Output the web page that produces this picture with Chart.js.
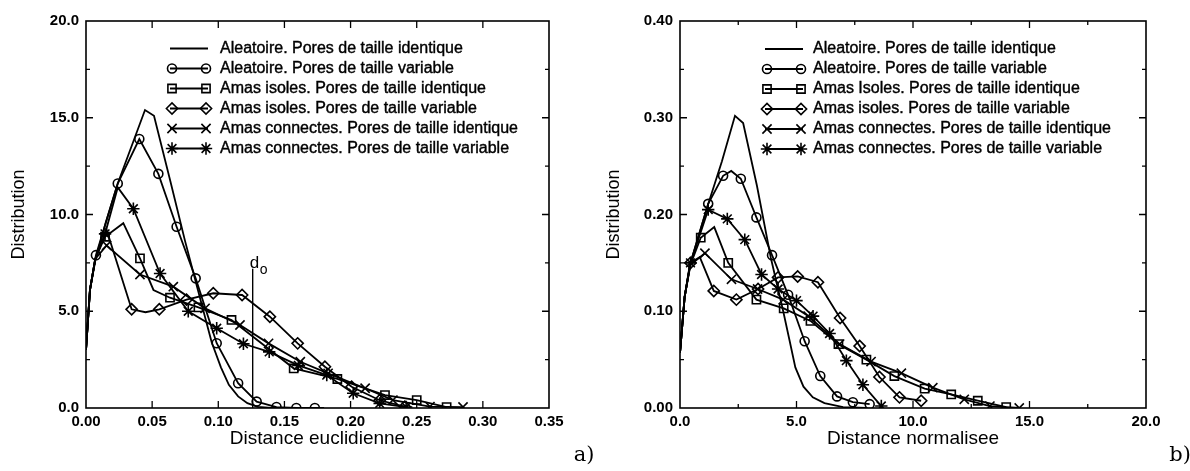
<!DOCTYPE html>
<html>
<head>
<meta charset="utf-8">
<script src="https://cdn.jsdelivr.net/npm/chart.js@4/dist/chart.umd.min.js"></script>
<style>
  body { margin: 0; background: #fff; }
  canvas { position: absolute; top: 0; }
  #chartA { left: 0; }
  #chartB { left: 600px; }
</style>
</head>
<body>
<canvas id="chartA" width="600" height="471"></canvas>
<canvas id="chartB" width="590" height="471"></canvas>
<script>
// series names
const labelsA = ['Aleatoire. Pores de taille identique', 'Aleatoire. Pores de taille variable',
  'Amas isoles. Pores de taille identique', 'Amas isoles. Pores de taille variable',
  'Amas connectes. Pores de taille identique', 'Amas connectes. Pores de taille variable'];
const labelsB = ['Aleatoire. Pores de taille identique', 'Aleatoire. Pores de taille variable',
  'Amas Isoles. Pores de taille identique', 'Amas isoles. Pores de taille variable',
  'Amas connectes. Pores de taille identique', 'Amas connectes. Pores de taille variable'];
const markers = [false, 'circle', 'rect', 'rectRot', 'crossRot', 'star'];

// a) distance euclidienne
const xA1 = [0, 0.003, 0.007, 0.015, 0.024, 0.0446, 0.0514, 0.0635, 0.075, 0.085, 0.095, 0.102, 0.108, 0.115, 0.122, 0.13, 0.14, 0.18];
const yA1 = [3.0, 6.1, 7.6, 9.6, 11.6, 15.4, 15.1, 11.8, 8.6, 6.0, 3.4, 2.1, 1.2, 0.6, 0.25, 0.06, 0, 0];
const xA2 = [0, 0.003, 0.0075, 0.024, 0.0403, 0.0547, 0.0685, 0.0829, 0.0988, 0.115, 0.129, 0.144, 0.159, 0.173];
const yA2 = [3.0, 6.1, 7.9, 11.6, 13.9, 12.1, 9.37, 6.7, 3.35, 1.28, 0.33, 0.05, 0, 0];
const xA3 = [0, 0.003, 0.007, 0.0144, 0.0282, 0.0408, 0.051, 0.0635, 0.085, 0.110, 0.157, 0.19, 0.226, 0.25, 0.2726];
const yA3 = [3.0, 6.1, 7.7, 8.85, 9.55, 7.73, 6.1, 5.7, 5.2, 4.55, 2.05, 1.5, 0.67, 0.41, 0.05];
const xA4 = [0, 0.003, 0.007, 0.0156, 0.0345, 0.045, 0.0554, 0.076, 0.0962, 0.118, 0.139, 0.160, 0.1806, 0.2008, 0.222, 0.241];
const yA4 = [3.0, 6.1, 7.7, 9.2, 5.1, 4.95, 5.1, 5.6, 5.93, 5.84, 4.72, 3.34, 2.13, 1.1, 0.4, 0.07];
const xA5 = [0, 0.003, 0.007, 0.0156, 0.0408, 0.066, 0.09, 0.1164, 0.138, 0.162, 0.183, 0.211, 0.232, 0.26, 0.285];
const yA5 = [3.0, 6.1, 7.7, 8.4, 6.9, 6.27, 5.15, 4.29, 3.34, 2.39, 1.79, 1.02, 0.41, 0.07, 0.05];
const xA6 = [0, 0.003, 0.007, 0.0144, 0.024, 0.0358, 0.056, 0.0773, 0.0988, 0.119, 0.1385, 0.1605, 0.182, 0.202, 0.222, 0.242];
const yA6 = [3.0, 6.1, 7.7, 9.0, 11.4, 10.3, 6.95, 5.0, 4.12, 3.32, 2.9, 2.2, 1.7, 0.76, 0.24, 0.05];
// points without a marker symbol
const bareA = [[], [0, 1], [0, 1, 2, 4, 6], [0, 1, 2, 3, 5], [0, 1, 2], [0, 1, 2, 4]];
const xTicksA = [0, 0.35, 0.05];
const yTicksA = [0, 20, 5];
const d0 = [0.126, 7.2];

// b) distance normalisee
const xB1 = [0, 0.2, 0.45, 1.2, 1.8, 2.36, 2.71, 3.3, 3.9, 4.43, 4.7, 4.95, 5.3, 5.7, 6.2, 7.0, 8.0];
const yB1 = [0.057, 0.115, 0.15, 0.21, 0.255, 0.302, 0.2945, 0.23, 0.155, 0.10, 0.07, 0.042, 0.022, 0.011, 0.005, 0.001, 0];
const xB2 = [0, 0.2, 0.45, 1.21, 1.85, 2.2, 2.61, 3.28, 3.95, 4.64, 5.35, 6.02, 6.74, 7.42, 8.14];
const yB2 = [0.057, 0.115, 0.15, 0.211, 0.240, 0.245, 0.237, 0.197, 0.158, 0.117, 0.069, 0.033, 0.012, 0.006, 0.004];
const xB3 = [0, 0.2, 0.4, 0.89, 1.47, 2.07, 3.28, 4.45, 5.6, 6.8, 8.0, 9.2, 10.5, 11.64, 12.78, 14.0];
const yB3 = [0.057, 0.115, 0.145, 0.176, 0.187, 0.150, 0.112, 0.103, 0.09, 0.066, 0.05, 0.033, 0.02, 0.014, 0.0075, 0.001];
const xB4 = [0, 0.2, 0.45, 0.85, 1.45, 2.42, 3.35, 4.21, 5.05, 5.92, 6.87, 7.71, 8.56, 9.42, 10.35];
const yB4 = [0.057, 0.115, 0.15, 0.156, 0.121, 0.112, 0.123, 0.135, 0.136, 0.13, 0.093, 0.064, 0.032, 0.011, 0.0075];
const xB5 = [0, 0.2, 0.45, 1.07, 2.21, 3.33, 4.43, 5.5, 6.85, 8.2, 9.5, 10.85, 12.2, 13.3, 14.56];
const yB5 = [0.057, 0.115, 0.148, 0.16, 0.133, 0.123, 0.112, 0.095, 0.066, 0.048, 0.036, 0.021, 0.009, 0.002, 0.0];
const xB6 = [0, 0.2, 0.45, 1.21, 2.03, 2.78, 3.5, 4.21, 5.0, 5.71, 6.42, 7.14, 7.85, 8.64];
const yB6 = [0.057, 0.115, 0.15, 0.205, 0.1955, 0.174, 0.138, 0.123, 0.111, 0.095, 0.077, 0.049, 0.024, 0.002];
const bareB = [[], [0, 1, 2, 5], [0, 1, 2, 4], [0, 1, 3], [0, 1, 2], [0, 1]];
const xTicksB = [0, 20, 5];
const yTicksB = [0, 0.4, 0.1];

const FONT = 'Liberation Sans, Arial, sans-serif';
const markSize = { circle: 4.5, rect: 5.8, rectRot: 5.6, crossRot: 6.5, star: 6.2 };

function makeSet(label, xs, ys, style, bare) {
  const r = style ? markSize[style] : 0;
  return {
    label: label,
    data: xs.map((x, i) => ({ x: x, y: ys[i] })),
    borderColor: '#000',
    borderWidth: 1.8,
    pointStyle: style || 'circle',
    markStyle: style,
    markRadius: r,
    pointRadius: ctx => bare.includes(ctx.dataIndex) ? 0 : r,
    pointBorderColor: '#000',
    pointBackgroundColor: 'rgba(0,0,0,0)',
    pointBorderWidth: 1.6,
    tension: 0,
    fill: false
  };
}

function drawMark(ctx, style, x, y, r) {
  const s = r * Math.SQRT1_2;
  ctx.beginPath();
  if (style === 'circle') {
    ctx.arc(x, y, r, 0, Math.PI * 2);
  } else if (style === 'rect') {
    ctx.rect(x - s, y - s, 2 * s, 2 * s);
  } else if (style === 'rectRot') {
    ctx.moveTo(x - r, y); ctx.lineTo(x, y - r); ctx.lineTo(x + r, y); ctx.lineTo(x, y + r); ctx.closePath();
  } else {
    ctx.moveTo(x - s, y - s); ctx.lineTo(x + s, y + s);
    ctx.moveTo(x - s, y + s); ctx.lineTo(x + s, y - s);
    if (style === 'star') {
      ctx.moveTo(x, y - r); ctx.lineTo(x, y + r);
      ctx.moveTo(x - r, y); ctx.lineTo(x + r, y);
    }
  }
  ctx.stroke();
}

// frame, inward ticks, legend and labels, drawn the old-plotter way
const paper = {
  id: 'paper',
  afterDatasetsDraw(chart, args, o) {
    const ctx = chart.ctx, a = chart.chartArea;
    const xs = chart.scales.x, ys = chart.scales.y;
    ctx.save();
    ctx.strokeStyle = '#000';
    ctx.fillStyle = '#000';
    ctx.lineWidth = 1.6;
    ctx.strokeRect(a.left, a.top, a.right - a.left, a.bottom - a.top);

    ctx.lineWidth = 1.3;
    ctx.beginPath();
    const nx = Math.round((xs.max - xs.min) / o.xMinor);
    for (let i = 1; i < nx; i++) {
      const v = xs.min + i * o.xMinor;
      const len = (i % Math.round(o.xMajor / o.xMinor) === 0) ? 7 : 4;
      const p = xs.getPixelForValue(v);
      ctx.moveTo(p, a.bottom); ctx.lineTo(p, a.bottom - len);
      ctx.moveTo(p, a.top); ctx.lineTo(p, a.top + len);
    }
    const ny = Math.round((ys.max - ys.min) / o.yMinor);
    for (let i = 1; i < ny; i++) {
      const v = ys.min + i * o.yMinor;
      const len = (i % Math.round(o.yMajor / o.yMinor) === 0) ? 7 : 4;
      const p = ys.getPixelForValue(v);
      ctx.moveTo(a.left, p); ctx.lineTo(a.left + len, p);
      ctx.moveTo(a.right, p); ctx.lineTo(a.right - len, p);
    }
    ctx.stroke();

    // legend
    ctx.font = '16px ' + FONT;
    ctx.textBaseline = 'middle';
    ctx.textAlign = 'left';
    chart.data.datasets.forEach((ds, i) => {
      const y = o.legendTop + i * o.legendStep;
      ctx.lineWidth = 1.8;
      ctx.beginPath();
      ctx.moveTo(o.legendX[0], y); ctx.lineTo(o.legendX[1], y);
      ctx.stroke();
      if (ds.markStyle) {
        ctx.lineWidth = 1.6;
        drawMark(ctx, ds.markStyle, o.legendX[0] + 2, y, ds.markRadius);
        drawMark(ctx, ds.markStyle, o.legendX[1] - 2, y, ds.markRadius);
      }
      ctx.fillText(ds.label, o.legendText, y);
      ctx.lineWidth = 0.4;
      ctx.strokeText(ds.label, o.legendText, y);
    });

    // d0 marker line
    if (o.mark) {
      const px = xs.getPixelForValue(o.mark[0]);
      const top = ys.getPixelForValue(o.mark[1]);
      ctx.lineWidth = 1.4;
      ctx.beginPath();
      ctx.moveTo(px, a.bottom); ctx.lineTo(px, top);
      ctx.stroke();
      ctx.textBaseline = 'alphabetic';
      ctx.font = '17px ' + FONT;
      ctx.fillText('d', px - 3, top - 1);
      ctx.font = '14px ' + FONT;
      ctx.fillText('o', px + 7, top + 5);
    }

    // panel letter
    ctx.font = '21px "DejaVu Serif", "Liberation Serif", serif';
    ctx.textAlign = 'center';
    ctx.textBaseline = 'middle';
    ctx.fillText(o.panel[0], o.panel[1], o.panel[2]);
    ctx.restore();
  }
};

function makeChart(id, sets, xt, yt, xTitle, xDec, yDec, pad, yAxisW, yTitlePad, opts) {
  return new Chart(document.getElementById(id), {
    type: 'line',
    data: { datasets: sets },
    options: {
      responsive: false,
      animation: false,
      layout: { padding: pad },
      plugins: { legend: { display: false }, tooltip: { enabled: false }, paper: opts },
      scales: {
        x: {
          type: 'linear', min: xt[0], max: xt[1],
          grid: { display: false, drawTicks: false },
          border: { display: false },
          ticks: { stepSize: xt[2], autoSkip: false, maxRotation: 0, padding: 5, color: '#000',
                   font: { family: FONT, size: 15, weight: 'bold' }, callback: v => v.toFixed(xDec) },
          title: { display: true, text: xTitle, color: '#000', font: { family: FONT, size: 19 },
                   padding: { top: 0, bottom: 21 } },
          afterFit: s => { s.height = 63; s.paddingLeft = 0; s.paddingRight = 0; }
        },
        y: {
          type: 'linear', min: yt[0], max: yt[1],
          grid: { display: false, drawTicks: false },
          border: { display: false },
          ticks: { stepSize: yt[2], autoSkip: false, padding: 7, color: '#000',
                   font: { family: FONT, size: 15, weight: 'bold' }, callback: v => v.toFixed(yDec) },
          title: { display: true, text: 'Distribution', color: '#000', font: { family: FONT, size: 18 },
                   padding: { top: yTitlePad, bottom: 0 } },
          afterFit: s => { s.width = yAxisW; s.paddingTop = 0; s.paddingBottom = 0; }
        }
      }
    },
    plugins: [paper]
  });
}

const setsA = [[xA1, yA1], [xA2, yA2], [xA3, yA3], [xA4, yA4], [xA5, yA5], [xA6, yA6]]
  .map((s, i) => makeSet(labelsA[i], s[0], s[1], markers[i], bareA[i]));
const setsB = [[xB1, yB1], [xB2, yB2], [xB3, yB3], [xB4, yB4], [xB5, yB5], [xB6, yB6]]
  .map((s, i) => makeSet(labelsB[i], s[0], s[1], markers[i], bareB[i]));

makeChart('chartA', setsA, xTicksA, yTicksA, 'Distance euclidienne', 2, 1,
  { left: 0, right: 51, top: 21, bottom: 0 }, 86, 8,
  { xMajor: 0.05, xMinor: 0.05, yMajor: 5, yMinor: 2.5,
    legendX: [170, 208], legendText: 220, legendTop: 48.5, legendStep: 20,
    mark: d0, panel: ['a)', 584, 456] });

makeChart('chartB', setsB, xTicksB, yTicksB, 'Distance normalisee', 1, 2,
  { left: 0, right: 44, top: 21, bottom: 0 }, 80, 3,
  { xMajor: 5, xMinor: 2.5, yMajor: 0.1, yMinor: 0.05,
    legendX: [765, 803].map(v => v - 600), legendText: 213, legendTop: 49, legendStep: 20,
    mark: null, panel: ['b)', 580, 456] });
</script>
</body>
</html>
